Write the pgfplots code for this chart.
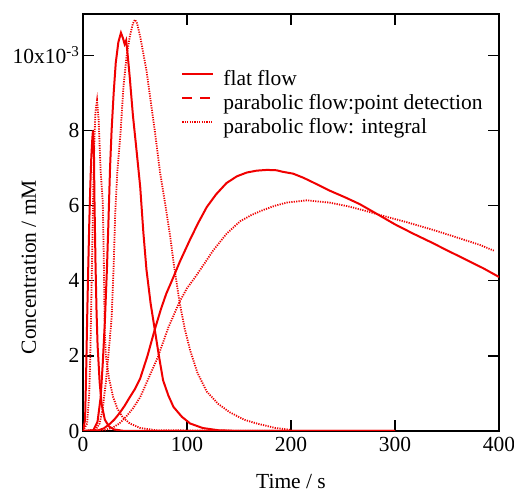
\documentclass[border=0pt]{standalone}
\usepackage{pgfplots}
\pgfplotsset{compat=1.18}
\usepackage{fontspec}
\setmainfont{Liberation Serif}
\usetikzlibrary{calc}
\definecolor{cr}{RGB}{240,0,0}
\begin{document}
\begin{tikzpicture}
\begin{axis}[
  scale only axis, width=416pt, height=417pt,
  xmin=0, xmax=400, ymin=0, ymax=11.1,
  xtick={0,100,200,300,400},
  ytick={0,2,4,6,8,10},
  yticklabels={0,2,4,6,8,10x10\textsuperscript{-3}},
  tick align=inside,
  major tick length=11pt,
  every tick/.style={black, line width=1.4pt},
  axis line style={line width=1.8pt},
  /pgf/number format/assume math mode=true,
  tick label style={font=\fontsize{21.5}{24}\selectfont},
  xticklabel style={yshift=-3pt},
  label style={font=\fontsize{21.5}{24}\selectfont},
  xlabel={Time / s}, ylabel={Concentration / mM},
  xlabel style={at={(rel axis cs:0.5,-0.122)}, anchor=center},
  ylabel style={at={(rel axis cs:-0.13,0.393)}, anchor=center},
  legend style={at={(rel axis cs:0.236,0.866)}, anchor=north west, draw=none, fill=none,
    font=\fontsize{21.5}{24}\selectfont, inner sep=0pt, row sep=4pt, column sep=9pt,
    nodes={inner xsep=0pt, inner ysep=0pt, text height=15pt, text depth=5pt},
    cells={anchor=west}},
  legend image code/.code={\draw[#1] (0pt,6pt) -- (31pt,6pt);},
]
\coordinate (SW) at (rel axis cs:0,0);
\coordinate (NE) at (rel axis cs:1,1);
\addlegendimage{cr, line width=2pt}
\addlegendentry{flat flow}
\addlegendimage{cr, line width=2pt, dash pattern=on 10pt off 8pt}
\addlegendentry{parabolic flow:point detection}
\addlegendimage{cr, line width=1.8pt, dash pattern=on 1.2pt off 1.2pt}
\addlegendentry{parabolic flow: integral}

% group 1, flat flow
\addplot[cr, line width=2pt, forget plot] coordinates {
(0,0) (2,0.3) (3,1.5) (4,3.0) (5,4.3) (6,5.5) (7,6.5) (8,7.3) (9,7.8) (9.6,8.0)
(10.5,7.5) (11,6.2) (12,4.5) (13,3.2) (14,2.3) (16,1.3) (18,0.7) (21,0.3) (25,0.12)
(30,0.04) (40,0) (300,0)};
% group 1, parabolic integral
\addplot[cr, line width=1.8pt, dash pattern=on 1.2pt off 1.2pt, forget plot] coordinates {
(0,0) (4,0.2) (6,1.0) (7,2.0) (8,3.5) (9,5.0) (10,6.6) (11,7.8) (12,8.5) (13.5,8.8)
(15,8.3) (16,7.6) (17,6.9) (19,6.1) (20,4.6) (20.5,3.5) (21,2.6) (22,2.0) (25,1.4)
(29,0.9) (33,0.6) (38,0.37) (45,0.2) (55,0.08) (70,0.02) (200,0)};
% group 2, flat flow
\addplot[cr, line width=2pt, forget plot] coordinates {
(0,0) (10,0.02) (14,0.25) (17,0.9) (19,1.8) (21,2.9) (23,4.3) (24.5,5.6) (26,7.0)
(27.5,8.0) (29.5,9.0) (31.5,9.8) (34,10.35) (36.5,10.6) (38.5,10.45) (40,10.3)
(41.5,10.4) (43,10.0) (45,9.4) (48,8.4) (51,7.6) (55,6.5) (58,5.3) (61,4.3) (65,3.4)
(69,2.7) (73,2.0) (77,1.35) (82,0.95) (87,0.64) (95,0.38) (103,0.2) (115,0.08)
(130,0.02) (150,0) (300,0)};
% group 2, parabolic integral
\addplot[cr, line width=1.8pt, dash pattern=on 1.2pt off 1.2pt, forget plot] coordinates {
(0,0) (12,0.03) (16,0.2) (19,0.6) (22,1.3) (25,2.2) (27.5,3.0) (29.5,4.4) (31,5.8)
(33,6.9) (36,7.9) (39,9.2) (42,10.0) (45,10.5) (48,10.85) (50,10.95) (52,10.85)
(55,10.5) (58,10.05) (61,9.6) (64,9.0) (69,8.0) (74,6.9) (79,6.05) (84,5.15) (87,4.5)
(93,3.4) (98,2.7) (103,2.15) (110,1.55) (119,1.05) (130,0.72) (141,0.5) (155,0.3)
(167,0.2) (185,0.08) (200,0.03)};
% group 3, flat flow
\addplot[cr, line width=2pt, forget plot] coordinates {
(0,0) (15,0.02) (20,0.07) (25,0.17) (30,0.3) (35,0.47) (40,0.67) (45,0.9) (50,1.12)
(55,1.4) (62,2.0) (69,2.7) (75,3.25) (80,3.65) (87,4.1) (93,4.5) (103,5.1) (111,5.55)
(119,5.96) (128,6.3) (138,6.6) (148,6.78) (157.5,6.88) (167,6.93) (177,6.95)
(186,6.94) (192,6.9) (202,6.85) (212,6.74) (221,6.62) (237,6.4) (252,6.22) (266,6.04)
(285,5.74) (300,5.5) (317,5.26) (335,5.02) (350,4.81) (369,4.55) (385,4.33) (400,4.1)};
% group 3, parabolic integral
\addplot[cr, line width=1.8pt, dash pattern=on 1.2pt off 1.2pt, forget plot] coordinates {
(0,0) (20,0.02) (28,0.08) (35,0.2) (42,0.4) (48,0.6) (55,0.9) (63,1.4) (72,1.97)
(82,2.75) (93,3.45) (100,3.8) (108,4.1) (119,4.55) (125,4.8) (138,5.25) (151,5.58)
(162,5.75) (173,5.88) (185,6.0) (196,6.08) (215,6.14) (237,6.08) (255,5.98) (269,5.88)
(292,5.7) (311,5.56) (337,5.35) (362,5.13) (382,4.95) (395,4.8)};
\end{axis}
\pgfresetboundingbox
\path ($(SW)+(-83pt,-63pt)$) rectangle ($(NE)+(15pt,14pt)$);
\end{tikzpicture}
\end{document}
